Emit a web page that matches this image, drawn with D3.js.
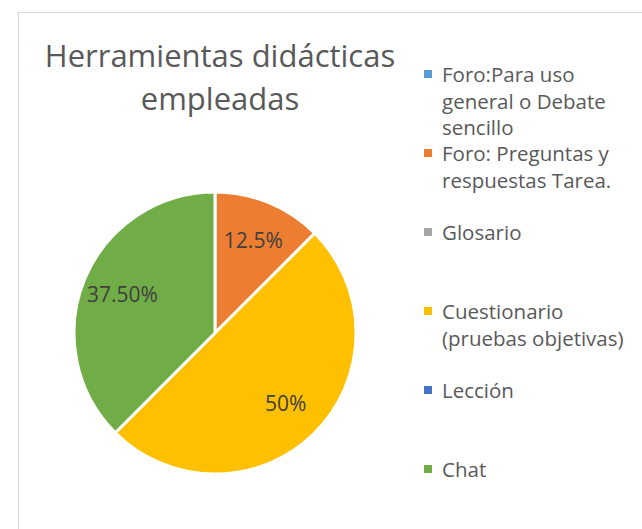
<!DOCTYPE html>
<html>
<head>
<meta charset="utf-8">
<script src="https://cdn.jsdelivr.net/npm/d3@7"></script>
<style>
  body { margin: 0; background: #fff; }
  svg { display: block; }
</style>
</head>
<body>
<div class="chart"></div>
<script>
var width = 642, height = 529;

// data
var titleLines = ['Herramientas didácticas', 'empleadas'];
var categories = [
    'Foro:Para uso general o Debate sencillo',
    'Foro: Preguntas y respuestas Tarea.',
    'Glosario',
    'Cuestionario (pruebas objetivas)',
    'Lección',
    'Chat'
];
var values = [0, 12.5, 0, 50, 0, 37.5];
var valueLabels = ['', '12.5%', '', '50%', '', '37.50%'];

function drawChart() {
    var svg = d3.select('.chart')
        .append('svg')
        .attr('width', width)
        .attr('height', height);

    // chart area border
    svg.append('rect')
        .attr('x', 18.5)
        .attr('y', 12.5)
        .attr('width', 640)
        .attr('height', 540)
        .attr('fill', '#fff')
        .attr('stroke', '#d9d9d9')
        .attr('stroke-width', 1);

    // title
    svg.append('text')
        .attr('x', 220)
        .attr('y', 67)
        .attr('text-anchor', 'middle')
        .style('font-family', '"Open Sans", sans-serif')
        .style('font-size', '31px')
        .style('fill', '#595959')
        .selectAll('tspan')
        .data(titleLines)
        .enter()
        .append('tspan')
        .attr('x', 220)
        .attr('dy', function(d, i) { return i === 0 ? 0 : 43; })
        .text(function(d) { return d; });

    var color = d3.scaleOrdinal()
        .domain(categories)
        .range(['#5b9bd5', '#ed7d31', '#a5a5a5', '#ffc000', '#4472c4', '#70ad47']);

    var radius = 141;
    var data = categories.map(function(c, i) {
        return { name: c, value: values[i], label: valueLabels[i] };
    });

    var pie = d3.pie()
        .sort(null)
        .value(function(d) { return d.value; })
        (data);

    var arc = d3.arc()
        .innerRadius(0)
        .outerRadius(radius);

    var labelArc = d3.arc()
        .innerRadius(radius * 0.71)
        .outerRadius(radius * 0.71);

    var g = svg.append('g')
        .attr('transform', 'translate(215,333)');

    g.selectAll('path')
        .data(pie.filter(function(d) { return d.data.value > 0; }))
        .enter()
        .append('path')
        .attr('d', arc)
        .attr('fill', function(d) { return color(d.data.name); })
        .attr('stroke', 'white')
        .style('stroke-width', '3px')
        .style('stroke-linejoin', 'round');

    g.selectAll('text')
        .data(pie.filter(function(d) { return d.data.label; }))
        .enter()
        .append('text')
        .attr('transform', function(d) { return 'translate(' + labelArc.centroid(d) + ')'; })
        .attr('dy', '0.35em')
        .style('text-anchor', 'middle')
        .style('font-family', '"Open Sans", sans-serif')
        .style('font-size', '21px')
        .style('fill', '#404040')
        .text(function(d) { return d.data.label; });

    // legend, one row per category
    var legendY = d3.scalePoint()
        .domain(categories)
        .range([82, 477]);

    var legend = svg.selectAll('.legendItem')
        .data(categories)
        .enter()
        .append('g')
        .attr('class', 'legendItem')
        .attr('transform', function(d) { return 'translate(0,' + legendY(d) + ')'; });

    legend.append('rect')
        .attr('x', 424)
        .attr('y', -12)
        .attr('width', 8)
        .attr('height', 8)
        .attr('fill', function(d) { return color(d); });

    legend.append('text')
        .attr('x', 442)
        .style('font-family', '"Open Sans", sans-serif')
        .style('font-size', '20.5px')
        .style('fill', '#595959')
        .each(function(d) {
            var text = d3.select(this);
            var words = d.split(' ');
            var line = [];
            var tspan = text.append('tspan').attr('x', 442).attr('dy', 0);
            words.forEach(function(w) {
                line.push(w);
                tspan.text(line.join(' '));
                if (tspan.node().getComputedTextLength() > 192 && line.length > 1) {
                    line.pop();
                    tspan.text(line.join(' '));
                    line = [w];
                    tspan = text.append('tspan').attr('x', 442).attr('dy', 26.5).text(w);
                }
            });
        });
}

drawChart();
</script>
</body>
</html>
